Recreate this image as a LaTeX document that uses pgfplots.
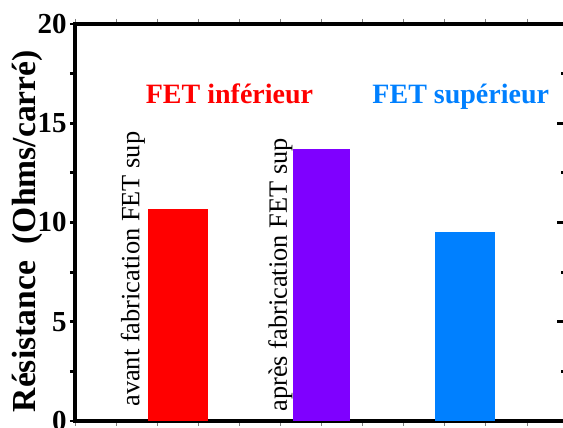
\documentclass[border=0pt]{standalone}
\usepackage{pgfplots}
\pgfplotsset{compat=1.18}
\usepackage{fontspec}
\setmainfont{Liberation Serif}
\definecolor{cred}{HTML}{FF0000}
\definecolor{cpurple}{HTML}{7F00FF}
\definecolor{cblue}{HTML}{0080FF}
\begin{document}
\begin{tikzpicture}
\begin{axis}[
  name=main,
  at={(0,0)}, anchor=south west,
  scale only axis,
  width=246.5pt, height=198.5pt,
  xmin=0, xmax=12, ymin=0, ymax=20,
  axis line style={line width=2pt},
  xtick={0,1,...,12}, xticklabels={},
  x tick style={gray, line width=0.4pt},
  ytick={0,5,10,15,20},
  minor y tick num=1,
  y tick style={black, line width=1.4pt},
  ytick pos=left,
  tick align=outside,
  major tick length=2.5pt, minor tick length=2.5pt,
  /pgf/number format/assume math mode=true,
  yticklabel style={font=\bfseries\fontsize{14.5}{16}\selectfont, inner sep=1.5pt},
  ylabel={Résistance\ \ (Ohms/carré)},
  every axis y label/.style={at={(rel axis cs:-0.0974,0.478)}, rotate=90, anchor=center,
     font=\bfseries\fontsize{16.8}{18}\selectfont},
  ybar, bar shift=0pt,
  clip=false,
]
\addplot[fill=cred, draw=none, bar width=1.46] coordinates {(2.5,10.67)};
\addplot[fill=cpurple, draw=none, bar width=1.39] coordinates {(6,13.7)};
\addplot[fill=cblue, draw=none, bar width=1.46] coordinates {(9.5,9.53)};
\node[font=\bfseries\fontsize{14}{16}\selectfont, text=cred, anchor=base, inner sep=0pt] at (axis cs:3.76,16.02) {FET inférieur};
\node[font=\bfseries\fontsize{14}{16}\selectfont, text=cblue, anchor=base, inner sep=0pt] at (axis cs:9.39,16.02) {FET supérieur};
\node[font=\fontsize{13.2}{15}\selectfont, rotate=90, anchor=west, inner sep=0pt] at (axis cs:1.41,0.7) {avant fabrication FET sup};
\node[font=\fontsize{13.2}{15}\selectfont, rotate=90, anchor=west, inner sep=0pt] at (axis cs:5.0,0.45) {après fabrication FET sup};
\coordinate (BL) at (rel axis cs:0,0);
\coordinate (TR) at (rel axis cs:1,1);
\end{axis}
\begin{axis}[
  at={(0,0)}, anchor=south west,
  scale only axis,
  width=246.5pt, height=198.5pt,
  xmin=0, xmax=12, ymin=0, ymax=20,
  axis x line=none,
  axis y line*=right,
  axis line style={line width=2pt},
  ytick={0,5,10,15,20}, yticklabels={},
  minor y tick num=1,
  y tick style={black, line width=1.4pt},
  tick align=inside,
  major tick length=5.5pt, minor tick length=3.6pt,
]
\addplot[draw=none] coordinates {(0,0)};
\end{axis}
\pgfresetboundingbox
\path[use as bounding box] ([shift={(-37.5pt,-3.5pt)}]BL) rectangle ([shift={(-2.5pt,12pt)}]TR);
\end{tikzpicture}
\end{document}
